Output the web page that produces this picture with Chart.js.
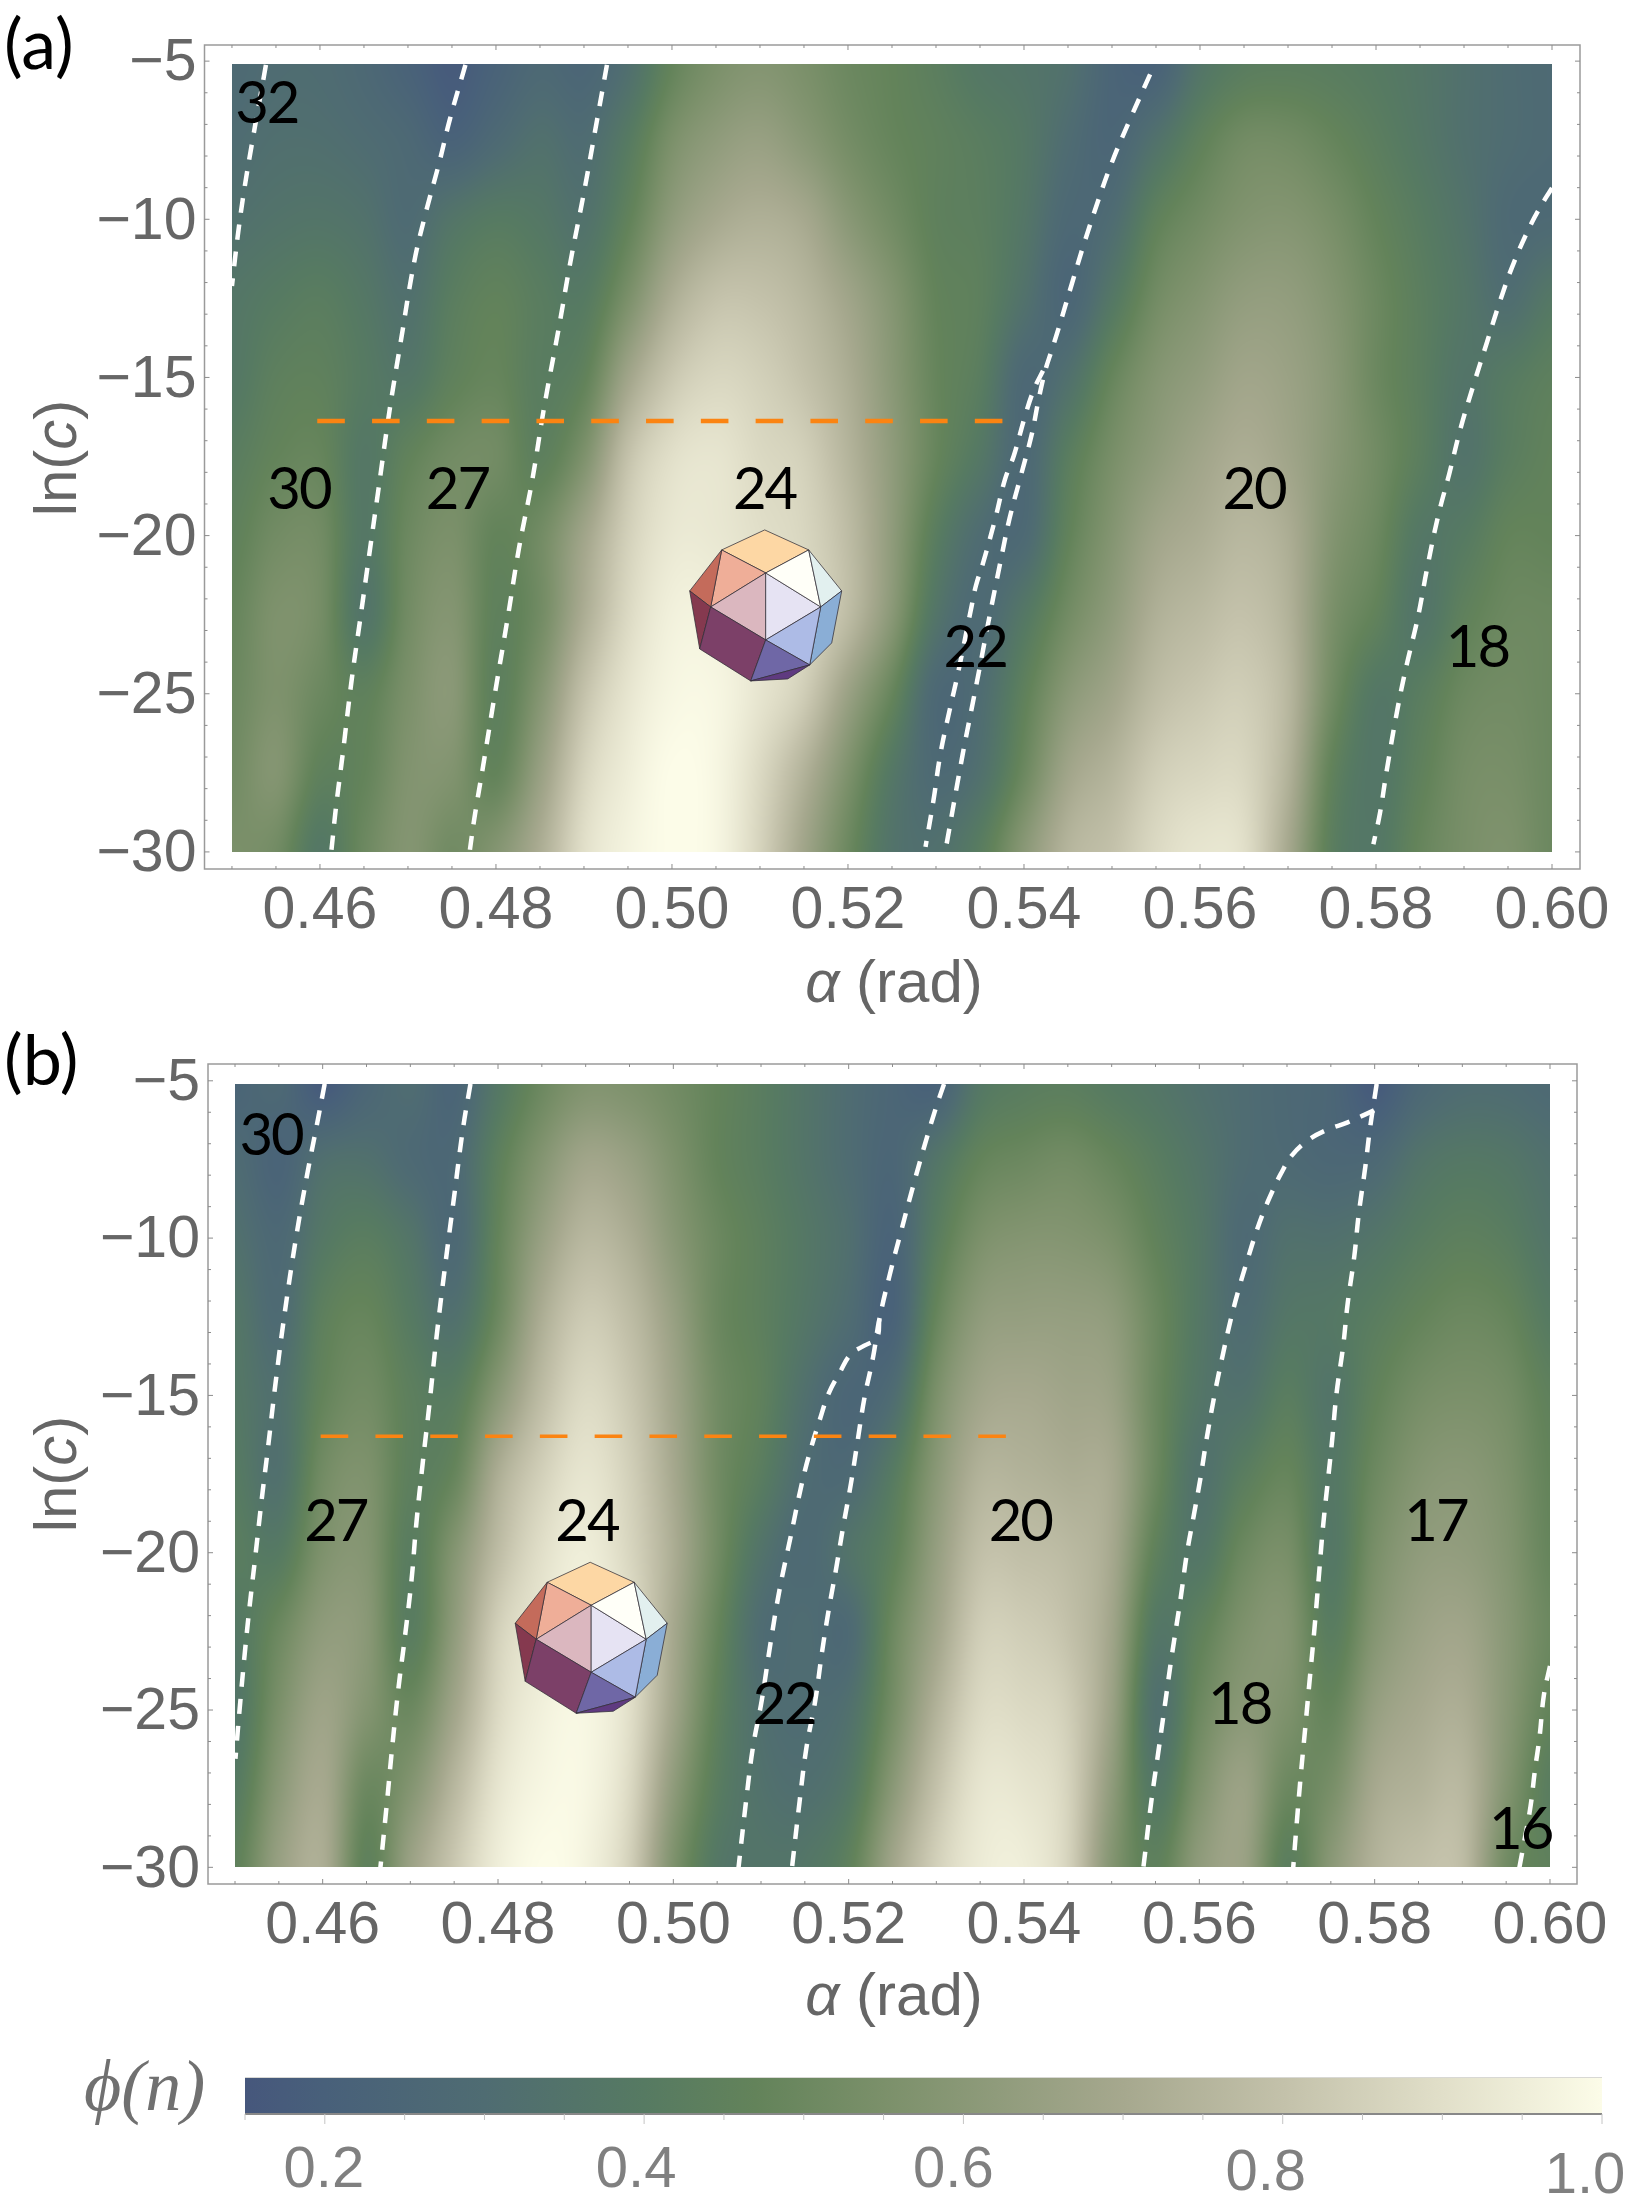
<!DOCTYPE html>
<html>
<head>
<meta charset="utf-8">
<script src="https://cdn.jsdelivr.net/npm/chart.js@4"></script>
<style>
  html, body { margin: 0; padding: 0; background: #fff; }
  #page { position: relative; width: 1632px; height: 2208px; overflow: hidden; }
  canvas { position: absolute; left: 0; }
</style>
</head>
<body>
<div id="page">
  <canvas id="panelA" width="1632" height="1030" style="top:0"></canvas>
  <canvas id="panelB" width="1632" height="1010" style="top:1030px"></canvas>
  <canvas id="colorBar" width="1632" height="168" style="top:2040px"></canvas>
</div>
<script>
// heat map grid, columns are alpha, rows are ln(c)
const alphaCols = [0.45,0.455,0.46,0.465,0.47,0.475,0.48,0.485,0.49,0.495,0.5,0.505,0.51,0.515,0.52,0.525,0.53,0.535,0.54,0.545,0.55,0.555,0.56,0.565,0.57,0.575,0.58,0.585,0.59,0.595,0.6];
const lnCRows = [-5.1,-7.5,-10,-12.5,-15,-17.5,-20,-22.5,-25,-27.5,-30];

const phiA = [
  [.28,.30,.30,.27,.22,.17,.22,.27,.25,.32,.47,.55,.58,.55,.50,.47,.43,.38,.36,.33,.24,.22,.36,.42,.43,.42,.40,.37,.33,.30,.28],
  [.30,.32,.32,.30,.27,.22,.28,.33,.30,.40,.55,.62,.65,.60,.53,.48,.45,.42,.38,.30,.25,.34,.45,.52,.52,.48,.43,.38,.33,.30,.28],
  [.33,.35,.36,.34,.29,.36,.40,.38,.34,.46,.62,.70,.73,.70,.60,.52,.45,.43,.37,.27,.30,.45,.52,.57,.58,.54,.47,.41,.35,.28,.28],
  [.37,.40,.42,.38,.33,.42,.46,.42,.40,.55,.72,.80,.80,.76,.68,.58,.47,.44,.34,.25,.38,.52,.58,.63,.63,.58,.50,.43,.37,.31,.38],
  [.38,.44,.45,.40,.37,.45,.48,.42,.46,.68,.82,.87,.85,.80,.72,.60,.48,.42,.27,.33,.48,.58,.63,.68,.66,.60,.50,.43,.36,.40,.44],
  [.42,.47,.48,.38,.46,.52,.52,.44,.56,.80,.90,.92,.88,.85,.75,.62,.48,.38,.27,.42,.54,.62,.68,.72,.68,.60,.52,.43,.35,.42,.46],
  [.45,.52,.52,.38,.50,.55,.47,.52,.68,.85,.93,.93,.90,.87,.78,.62,.42,.30,.28,.46,.58,.68,.72,.76,.72,.58,.50,.38,.40,.47,.47],
  [.48,.56,.53,.36,.52,.58,.45,.52,.72,.88,.96,.96,.92,.88,.78,.60,.36,.28,.38,.52,.62,.73,.77,.80,.74,.55,.46,.36,.45,.50,.50],
  [.50,.56,.50,.45,.55,.60,.44,.58,.80,.92,.98,.98,.92,.84,.66,.48,.27,.30,.45,.60,.68,.78,.82,.84,.76,.52,.38,.42,.50,.52,.50],
  [.52,.58,.45,.47,.57,.57,.47,.65,.86,.95,1.0,.98,.88,.74,.56,.38,.28,.33,.50,.68,.75,.84,.87,.87,.74,.46,.37,.45,.53,.54,.50],
  [.55,.52,.38,.50,.58,.52,.58,.72,.90,.97,1.0,.98,.86,.68,.50,.35,.33,.42,.60,.75,.80,.88,.92,.90,.70,.43,.38,.48,.54,.56,.50]
];

const phiB = [
  [.24,.27,.17,.25,.30,.24,.38,.50,.57,.56,.52,.47,.42,.36,.30,.25,.22,.38,.42,.43,.40,.37,.33,.30,.27,.25,.17,.26,.30,.30,.28],
  [.29,.23,.32,.33,.28,.27,.44,.58,.68,.65,.56,.47,.42,.36,.30,.25,.36,.47,.50,.52,.48,.42,.36,.30,.28,.26,.27,.35,.38,.37,.33],
  [.33,.27,.38,.42,.36,.27,.47,.65,.76,.72,.60,.50,.44,.38,.32,.23,.42,.55,.58,.58,.55,.46,.38,.28,.33,.33,.36,.41,.44,.42,.36],
  [.37,.29,.44,.48,.40,.33,.50,.72,.83,.78,.65,.50,.44,.37,.30,.22,.48,.62,.64,.64,.62,.50,.38,.30,.37,.38,.42,.47,.50,.48,.40],
  [.38,.33,.47,.52,.44,.42,.60,.78,.88,.82,.68,.52,.45,.33,.25,.30,.55,.68,.70,.68,.66,.50,.37,.34,.42,.36,.46,.53,.55,.53,.45],
  [.40,.33,.52,.56,.44,.48,.72,.85,.92,.85,.70,.52,.42,.30,.28,.40,.60,.74,.74,.72,.70,.50,.34,.42,.48,.38,.50,.58,.60,.56,.47],
  [.42,.40,.56,.58,.42,.58,.78,.90,.95,.87,.72,.52,.35,.28,.35,.45,.64,.79,.79,.77,.70,.45,.37,.50,.54,.38,.54,.62,.63,.58,.48],
  [.38,.50,.62,.60,.42,.62,.85,.93,.97,.90,.70,.48,.30,.30,.28,.50,.68,.84,.84,.80,.68,.38,.45,.56,.58,.42,.58,.66,.68,.60,.50],
  [.36,.55,.67,.58,.50,.68,.88,.96,.98,.90,.68,.45,.32,.30,.33,.53,.74,.88,.88,.84,.66,.33,.50,.60,.56,.48,.64,.70,.72,.60,.47],
  [.40,.60,.70,.50,.58,.76,.92,.98,.98,.88,.62,.42,.34,.32,.38,.60,.80,.92,.92,.86,.62,.38,.56,.66,.50,.54,.70,.74,.76,.58,.42],
  [.45,.65,.72,.45,.66,.82,.95,1.0,.97,.85,.56,.38,.36,.37,.45,.68,.85,.94,.95,.86,.58,.45,.62,.66,.43,.60,.74,.79,.78,.52,.45]
];

// colour scale of phi(n)
const cmapLevels = [0.15,0.2,0.3,0.4,0.47,0.55,0.62,0.7,0.8,0.9,1.0];
const cmapColors = ['#46577c','#48607a','#4f6c72','#567a62','#63835a','#7b906a','#8f9b7b','#a6a88e','#c3c1aa','#e1dfc9','#fcfce8'];

// white transition curves, panel (a)
const a1Alpha = [.45386,.45244,.45142,.45066,.45];
const a1LnC = [-5.12,-7.34,-9.02,-10.52,-12.11];
const a2Alpha = [.47653,.47476,.47358,.47197,.4707,.46918,.46791,.46664,.46562,.46461,.4636,.46258,.46182,.46131];
const a2LnC = [-5.12,-6.84,-8.18,-9.85,-11.36,-13.87,-16.04,-18.55,-20.56,-22.57,-24.57,-26.92,-28.59,-29.93];
const a3Alpha = [.49261,.4915,.48998,.48845,.48718,.48541,.48414,.48262,.48135,.47983,.47856,.47755,.47704];
const a3LnC = [-5.12,-6.84,-9.18,-11.36,-13.37,-16.04,-18.22,-20.39,-22.57,-25.08,-27.25,-28.93,-29.93];
const a4Alpha = [.55433,.55205,.55002,.5485,.54672,.54545,.54393,.54317,.54241,.54165,.54089,.53962,.53835,.53734,.53607,.5348,.53404,.53303,.53115];
const a4LnC = [-5.42,-6.84,-8.18,-9.35,-10.86,-12.03,-13.45,-14.12,-14.79,-15.71,-16.79,-18.13,-19.47,-20.81,-22.57,-24.41,-25.49,-26.92,-29.84];
const a5Alpha = [.54216,.54114,.54013,.53886,.53784,.53673,.53541,.53455,.53404,.53252,.5315,.53049,.52973,.52881];
const a5LnC = [-14.79,-15.37,-16.21,-17.46,-18.22,-19.47,-20.81,-21.57,-22.24,-24.32,-25.58,-26.92,-28.34,-29.84];
const a6Alpha = [.6,.59923,.59771,.59568,.59416,.59263,.59111,.58959,.58832,.58705,.58579,.58477,.5835,.58249,.58122,.58046,.5797];
const a6LnC = [-9.01,-9.35,-10.1,-11.36,-12.53,-13.87,-15.21,-16.63,-18.05,-19.39,-21.06,-22.57,-24.07,-25.41,-27.42,-28.76,-29.76];

// white transition curves, panel (b)
const b1Alpha = [.46023,.45931,.45819,.45692,.45565,.45463,.45371,.45305,.45229,.45168,.45112,.45056,.45005];
const b1LnC = [-5.1,-6.44,-8.04,-10.06,-12.42,-14.6,-16.79,-18.3,-20.19,-21.67,-23.18,-24.87,-26.55];
const b2Alpha = [.47686,.476,.47498,.47396,.47294,.47218,.47142,.47066,.47015,.46938,.46862,.46786,.46735,.46659];
const b2LnC = [-5.1,-6.53,-8.71,-10.9,-13.26,-15.28,-17.13,-19.14,-20.83,-22.68,-24.36,-26.38,-27.89,-30];
const b3Alpha = [.5235,.52321,.52178,.52026,.51899,.51771,.5167,.51568,.51466,.51339,.51212,.5111,.51008,.50906,.5083,.50744];
const b3LnC = [-12.58,-13.17,-13.42,-13.68,-14.27,-14.94,-15.78,-16.7,-17.8,-19.48,-21.17,-22.85,-24.7,-26.22,-27.89,-30];
const b4Alpha = [.53088,.52986,.52859,.52732,.52604,.52477,.5235,.5228,.52178,.52102,.52026,.51939,.51858,.51771,.51695,.51619,.51517,.51441,.51354];
const b4LnC = [-5.1,-5.94,-7.12,-8.38,-9.72,-11.07,-12.58,-13.76,-15.11,-16.45,-17.8,-19.15,-20.49,-21.84,-23.18,-24.7,-26.22,-27.89,-30];
const b5Alpha = [.57992,.57692,.57437,.57234,.57056,.56929,.56827,.56725,.56639,.56562,.56471,.56359,.56257,.56176,.56079,.56013,.55937,.5586,.55784,.55682,.55606,.5553,.55453,.55362];
const b5LnC = [-5.94,-6.32,-6.58,-6.9,-7.37,-7.96,-8.55,-9.22,-9.89,-10.57,-11.41,-12.58,-13.85,-14.94,-16.45,-17.63,-18.81,-19.99,-21.5,-23.35,-24.87,-26.38,-27.89,-30];
const b6Alpha = [.58023,.57946,.57895,.57819,.57768,.57692,.57641,.57565,.57514,.57463,.57412,.57361,.5731,.57259,.57209,.57158,.57107,.57071];
const b6LnC = [-5.1,-6.53,-7.7,-9.22,-10.57,-12.08,-13.42,-14.94,-16.45,-17.8,-19.14,-20.83,-22.51,-24.03,-25.54,-27.05,-28.73,-30];
const b7Alpha = [.6,.5993,.5988,.59829,.59778,.59702,.59651];
const b7LnC = [-23.6,-24.53,-25.88,-26.89,-28.06,-29.24,-30];

// orange guide at the same ln(c) on each panel
const orangeAlphaA = [.45969,.5382];
const orangeLnCA = [-16.38,-16.38];
const orangeAlphaB = [.45977,.5381];
const orangeLnCB = [-16.3,-16.3];

// region labels
const regionTextA = ['32','30','27','24','22','20','18'];
const regionAlphaA = [.45396,.45761,.47562,.51052,.53445,.56615,.59152];
const regionLnCA = [-6.34,-18.55,-18.55,-18.55,-23.54,-18.55,-23.54];
const regionTextB = ['30','27','24','22','20','18','17','16'];
const regionAlphaB = [.45412,.4615,.49014,.51263,.53958,.56461,.58699,.59666];
const regionLnCB = [-6.74,-19.01,-19.01,-24.83,-19.01,-24.83,-19.01,-28.79];

// axis ticks
const alphaTicks = [.46,.48,.5,.52,.54,.56,.58,.6];
const alphaMinor = [.45,.455,.465,.47,.475,.485,.49,.495,.505,.51,.515,.525,.53,.535,.545,.55,.555,.565,.57,.575,.585,.59,.595];
const lnCTicks = [-5,-10,-15,-20,-25,-30];
const lnCMinor = [-6,-7,-8,-9,-11,-12,-13,-14,-16,-17,-18,-19,-21,-22,-23,-24,-26,-27,-28,-29];
const phiTicks = [.2,.4,.6,.8,1];
const phiMinor = [.15,.25,.3,.35,.45,.5,.55,.65,.7,.75,.85,.9,.95];

// polyhedron faces, in px around its upper centre vertex
const polyFaces = [
  {fill:'#fdd7a4', pts:[[-1,-43],[43,-23],[0,0],[-44,-23]]},
  {fill:'#efae98', pts:[[-44,-23],[0,0],[-55,34]]},
  {fill:'#c46b5b', pts:[[-44,-23],[-55,34],[-76,18]]},
  {fill:'#85394f', pts:[[-76,18],[-55,34],[-66,76]]},
  {fill:'#dbb7bf', pts:[[-55,34],[0,0],[0,67]]},
  {fill:'#e6e3f3', pts:[[0,0],[55,34],[0,67]]},
  {fill:'#fffff8', pts:[[0,0],[43,-23],[55,34]]},
  {fill:'#e2f0ef', pts:[[43,-23],[76,18],[55,34]]},
  {fill:'#8aaed6', pts:[[55,34],[76,18],[66,70],[44,92]]},
  {fill:'#adbbe6', pts:[[0,67],[55,34],[44,92]]},
  {fill:'#7c4068', pts:[[-55,34],[0,67],[-15,108],[-66,76]]},
  {fill:'#6f67a6', pts:[[0,67],[44,92],[-15,108]]},
  {fill:'#5f3a80', pts:[[-15,108],[44,92],[22,106]]}
];

const tickGray = '#666666';
const tickFont = '"Liberation Sans", Arial, sans-serif';
const labelFont = 'Lato, "Open Sans", sans-serif';

function hexRgb(h) {
  return [parseInt(h.slice(1,3),16), parseInt(h.slice(3,5),16), parseInt(h.slice(5,7),16)];
}
const cmapRgb = cmapColors.map(hexRgb);

function phiColor(v) {
  if (v <= cmapLevels[0]) return cmapRgb[0];
  for (let i = 1; i < cmapLevels.length; i++) {
    if (v <= cmapLevels[i]) {
      const t = (v - cmapLevels[i-1]) / (cmapLevels[i] - cmapLevels[i-1]);
      return cmapRgb[i-1].map((c, k) => c + (cmapRgb[i][k] - c) * t);
    }
  }
  return cmapRgb[cmapRgb.length - 1];
}

// smooth reading of the grid when painting it, same idea as Mathematica's image smoothing
function catmull(a, b, c, d, t) {
  return b + 0.5 * t * (c - a + t * (2*a - 5*b + 4*c - d + t * (3*(b - c) + d - a)));
}
function gridIndex(list, v) {
  let i = 0;
  while (i < list.length - 2 && ((list[0] < list[1]) ? v > list[i+1] : v < list[i+1])) i++;
  return [i, (v - list[i]) / (list[i+1] - list[i])];
}
function sampleGrid(grid, alpha, lnc) {
  const [ci, ct] = gridIndex(alphaCols, alpha);
  const [ri, rt] = gridIndex(lnCRows, lnc);
  const rowVal = (r) => {
    const row = grid[Math.max(0, Math.min(lnCRows.length - 1, r))];
    const at = (k) => row[Math.max(0, Math.min(alphaCols.length - 1, k))];
    return catmull(at(ci-1), at(ci), at(ci+1), at(ci+2), ct);
  };
  return catmull(rowVal(ri-1), rowVal(ri), rowVal(ri+1), rowVal(ri+2), rt);
}

const heatPlugin = {
  id: 'heat',
  beforeDatasetsDraw(chart, args, opts) {
    const {x, y} = chart.scales;
    const ctx = chart.ctx;
    const left = Math.round(x.getPixelForValue(alphaCols[0]));
    const right = Math.round(x.getPixelForValue(alphaCols[alphaCols.length-1]));
    const top = Math.round(y.getPixelForValue(lnCRows[0]));
    const bottom = Math.round(y.getPixelForValue(lnCRows[lnCRows.length-1]));
    const img = ctx.createImageData(right - left, bottom - top);
    for (let py = 0; py < img.height; py++) {
      const lnc = y.getValueForPixel(top + py + 0.5);
      for (let px = 0; px < img.width; px++) {
        const c = phiColor(sampleGrid(opts.grid, x.getValueForPixel(left + px + 0.5), lnc));
        const o = (py * img.width + px) * 4;
        img.data[o] = c[0]; img.data[o+1] = c[1]; img.data[o+2] = c[2]; img.data[o+3] = 255;
      }
    }
    ctx.putImageData(img, left, top);
  }
};

const framePlugin = {
  id: 'frame',
  afterDraw(chart) {
    const {x, y} = chart.scales;
    const {left, right, top, bottom} = chart.chartArea;
    const ctx = chart.ctx;
    ctx.save();
    ctx.strokeStyle = '#9a9a9a';
    ctx.lineWidth = 1.5;
    ctx.strokeRect(left, top, right - left, bottom - top);
    ctx.strokeStyle = '#8c8c8c';
    ctx.lineWidth = 1;
    const xMark = (v, len) => {
      const p = x.getPixelForValue(v);
      ctx.moveTo(p, bottom); ctx.lineTo(p, bottom - len);
      ctx.moveTo(p, top); ctx.lineTo(p, top + len);
    };
    const yMark = (v, len) => {
      const p = y.getPixelForValue(v);
      ctx.moveTo(left, p); ctx.lineTo(left + len, p);
      ctx.moveTo(right, p); ctx.lineTo(right - len, p);
    };
    ctx.beginPath();
    alphaTicks.forEach(v => xMark(v, 5));
    alphaMinor.forEach(v => xMark(v, 3));
    lnCTicks.forEach(v => yMark(v, 5));
    lnCMinor.forEach(v => yMark(v, 3));
    ctx.stroke();
    ctx.restore();
  }
};

function drawRuns(ctx, runs, cx, cy, rotate) {
  ctx.save();
  ctx.translate(cx, cy);
  if (rotate) ctx.rotate(-Math.PI / 2);
  ctx.textBaseline = 'middle';
  ctx.textAlign = 'left';
  let total = 0;
  runs.forEach(r => { ctx.font = r.font; total += ctx.measureText(r.text).width; });
  let pos = -total / 2;
  runs.forEach(r => {
    ctx.font = r.font;
    ctx.fillStyle = r.color;
    ctx.fillText(r.text, pos, 0);
    pos += ctx.measureText(r.text).width;
  });
  ctx.restore();
}

const notesPlugin = {
  id: 'notes',
  afterDatasetsDraw(chart, args, opts) {
    const {x, y} = chart.scales;
    const ctx = chart.ctx;
    ctx.save();
    // polyhedron inset
    const ox = x.getPixelForValue(opts.polyAlpha);
    const oy = y.getPixelForValue(opts.polyLnC);
    polyFaces.forEach(f => {
      ctx.beginPath();
      f.pts.forEach((p, i) => i ? ctx.lineTo(ox + p[0], oy + p[1]) : ctx.moveTo(ox + p[0], oy + p[1]));
      ctx.closePath();
      ctx.fillStyle = f.fill;
      ctx.fill();
      ctx.strokeStyle = 'rgba(50,45,55,0.75)';
      ctx.lineWidth = 1;
      ctx.stroke();
    });
    // region numbers
    ctx.fillStyle = '#000';
    ctx.font = '58px ' + labelFont;
    ctx.letterSpacing = '-2px';
    ctx.textAlign = 'center';
    ctx.textBaseline = 'middle';
    opts.texts.forEach((t, i) => {
      ctx.fillText(t, x.getPixelForValue(opts.alphas[i]), y.getPixelForValue(opts.lnCs[i]) + 1);
    });
    ctx.restore();
  },
  afterDraw(chart, args, opts) {
    const ctx = chart.ctx;
    ctx.save();
    ctx.fillStyle = '#000';
    ctx.font = '70px ' + labelFont;
    ctx.textAlign = 'left';
    ctx.textBaseline = 'middle';
    ctx.fillText(opts.tag, 4, opts.tagY);
    ctx.restore();
    const plain = '60px ' + tickFont;
    const slant = 'italic 60px ' + tickFont;
    drawRuns(ctx, [{text:'\u03b1', font:slant, color:tickGray}, {text:' (rad)', font:plain, color:tickGray}], 894, opts.alphaTitleY, false);
    drawRuns(ctx, [{text:'ln(', font:plain, color:tickGray}, {text:'c', font:slant, color:tickGray}, {text:')', font:plain, color:tickGray}], 59, opts.lnCTitleY, true);
  }
};

function curve(xs, ys) {
  return {
    data: xs.map((v, i) => ({x: v, y: ys[i]})),
    showLine: true, pointRadius: 0, borderColor: '#ffffff', borderWidth: 4.5, borderDash: [15, 12], tension: 0.4
  };
}
function guide(xs, ys, width) {
  return {
    data: xs.map((v, i) => ({x: v, y: ys[i]})),
    showLine: true, pointRadius: 0, borderColor: '#fb8412', borderWidth: width, borderDash: [27.6, 27.2]
  };
}

function panel(id, f) {
  const canvas = document.getElementById(id);
  return new Chart(canvas, {
    type: 'scatter',
    data: {datasets: f.datasets},
    plugins: [heatPlugin, notesPlugin, framePlugin],
    options: {
      responsive: false,
      animation: false,
      layout: {padding: {top: f.top, right: 1632 - f.right, left: 0, bottom: 0}},
      plugins: {
        legend: {display: false},
        tooltip: {enabled: false},
        heat: {grid: f.grid},
        notes: f.notes
      },
      scales: {
        x: {
          type: 'linear', min: f.xMin, max: f.xMax,
          grid: {display: false, drawTicks: false},
          border: {display: false},
          afterBuildTicks: (s) => { s.ticks = alphaTicks.map(v => ({value: v})); },
          afterFit: (s) => { s.height = canvas.height - f.bottom; s.paddingLeft = 0; s.paddingRight = 0; },
          ticks: {
            color: tickGray, padding: 7, maxRotation: 0, autoSkip: false,
            font: {family: tickFont, size: 59},
            callback: (v) => Number(v).toFixed(2)
          }
        },
        y: {
          type: 'linear', min: f.yMin, max: f.yMax,
          grid: {display: false, drawTicks: false},
          border: {display: false},
          afterBuildTicks: (s) => { s.ticks = lnCTicks.map(v => ({value: v})); },
          afterFit: (s) => { s.width = f.left; s.paddingTop = 0; s.paddingBottom = 0; },
          ticks: {
            color: tickGray, padding: 8, autoSkip: false, labelOffset: 3,
            font: {family: tickFont, size: 59},
            callback: (v) => '\u2212' + Math.abs(v)
          }
        }
      }
    }
  });
}

panel('panelA', {
  left: 204.5, right: 1580, top: 45, bottom: 869,
  xMin: .44688, xMax: .60318, yMin: -30.54, yMax: -4.49,
  grid: phiA,
  datasets: [
    guide(orangeAlphaA, orangeLnCA, 4.5),
    curve(a1Alpha, a1LnC), curve(a2Alpha, a2LnC), curve(a3Alpha, a3LnC),
    curve(a4Alpha, a4LnC), curve(a5Alpha, a5LnC), curve(a6Alpha, a6LnC)
  ],
  notes: {
    polyAlpha: .51065, polyLnC: -21.18,
    texts: regionTextA, alphas: regionAlphaA, lnCs: regionLnCA,
    tag: '(a)', tagY: 46, alphaTitleY: 985, lnCTitleY: 458
  }
});

panel('panelB', {
  left: 208, right: 1577, top: 34, bottom: 854,
  xMin: .44692, xMax: .60308, yMin: -30.53, yMax: -4.466,
  grid: phiB,
  datasets: [
    guide(orangeAlphaB, orangeLnCB, 3.5),
    curve(b1Alpha, b1LnC), curve(b2Alpha, b2LnC), curve(b3Alpha, b3LnC), curve(b4Alpha, b4LnC),
    curve(b5Alpha, b5LnC), curve(b6Alpha, b6LnC), curve(b7Alpha, b7LnC)
  ],
  notes: {
    polyAlpha: .49063, polyLnC: -21.67,
    texts: regionTextB, alphas: regionAlphaB, lnCs: regionLnCB,
    tag: '(b)', tagY: 32, alphaTitleY: 968, lnCTitleY: 444
  }
});

// colour bar below both panels
const barLabelShift = [-1, -8, -10, -17, -17];
const barLabelDrop = [0, 0, 0, 3, 6];
const barPlugin = {
  id: 'bar',
  afterDraw(chart) {
    const x = chart.scales.x;
    const {left, right, top, bottom} = chart.chartArea;
    const ctx = chart.ctx;
    const grad = ctx.createLinearGradient(left, 0, right, 0);
    cmapLevels.forEach((v, i) => grad.addColorStop((v - cmapLevels[0]) / (1 - cmapLevels[0]), cmapColors[i]));
    ctx.save();
    ctx.fillStyle = grad;
    ctx.fillRect(left, top, right - left, bottom - top);
    ctx.fillStyle = '#d8d8d4';
    ctx.fillRect(left, top - 1, right - left, 1);
    ctx.fillStyle = '#888888';
    ctx.fillRect(left, bottom - 1, right - left, 2);
    ctx.strokeStyle = '#c4c4c4';
    ctx.lineWidth = 1;
    ctx.beginPath();
    phiTicks.forEach(v => { const p = x.getPixelForValue(v); ctx.moveTo(p, bottom); ctx.lineTo(p, bottom + 10); });
    phiMinor.forEach(v => { const p = x.getPixelForValue(v); ctx.moveTo(p, bottom); ctx.lineTo(p, bottom + 6); });
    ctx.stroke();
    ctx.fillStyle = '#808080';
    ctx.font = '58px ' + tickFont;
    ctx.textAlign = 'center';
    ctx.textBaseline = 'middle';
    phiTicks.forEach((v, i) => {
      ctx.fillText(v.toFixed(1), x.getPixelForValue(v) + barLabelShift[i], bottom + 57 + barLabelDrop[i]);
    });
    ctx.font = 'italic 72px "Liberation Serif", serif';
    ctx.fillStyle = '#707070';
    ctx.textAlign = 'left';
    ctx.fillText('\u03d5(n)', 84, 51);
    ctx.restore();
  }
};

new Chart(document.getElementById('colorBar'), {
  type: 'scatter',
  data: {datasets: []},
  plugins: [barPlugin],
  options: {
    responsive: false,
    animation: false,
    layout: {padding: {top: 38, left: 245, right: 30, bottom: 0}},
    plugins: {legend: {display: false}, tooltip: {enabled: false}},
    scales: {
      x: {
        type: 'linear', min: cmapLevels[0], max: 1,
        grid: {display: false, drawTicks: false},
        border: {display: false},
        ticks: {display: false},
        afterFit: (s) => { s.height = 94; s.paddingLeft = 0; s.paddingRight = 0; }
      },
      y: {display: false, min: 0, max: 1}
    }
  }
});
</script>
</body>
</html>
